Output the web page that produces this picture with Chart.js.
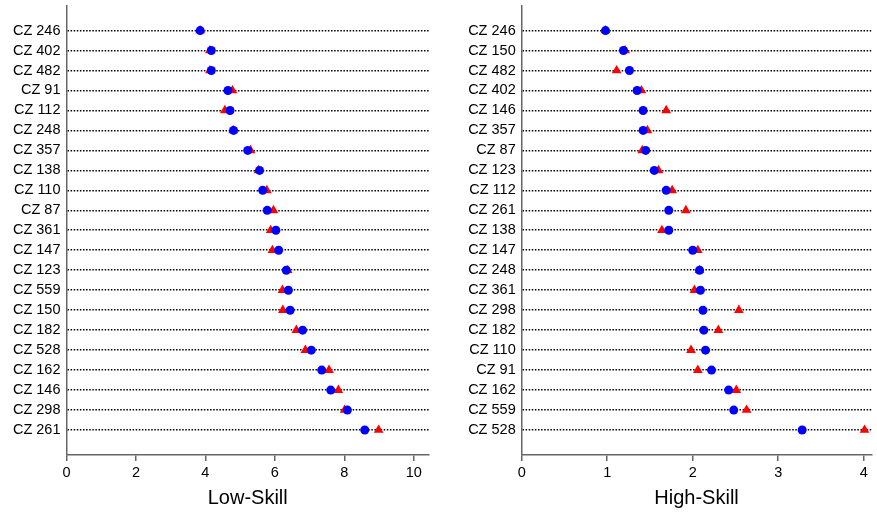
<!DOCTYPE html>
<html>
<head>
<meta charset="utf-8">
<script src="https://cdn.jsdelivr.net/npm/chart.js@4.4.1/dist/chart.umd.min.js"></script>
<style>
  body { margin: 0; background: #fff; }
  #wrap { position: relative; width: 877px; height: 514px; overflow: hidden; }
  #lowBox { position: absolute; left: 0; top: 0; }
  #highBox { position: absolute; left: 440px; top: 0; }
</style>
</head>
<body>
<div id="wrap">
  <div id="lowBox"><canvas id="lowChart" width="440" height="514"></canvas></div>
  <div id="highBox"><canvas id="highChart" width="437" height="514"></canvas></div>
</div>
<script>
// Low-skill panel, zones listed top to bottom
const lowLabels = ["CZ 246","CZ 402","CZ 482","CZ 91","CZ 112","CZ 248","CZ 357","CZ 138","CZ 110","CZ 87",
  "CZ 361","CZ 147","CZ 123","CZ 559","CZ 150","CZ 182","CZ 528","CZ 162","CZ 146","CZ 298","CZ 261"];
const lowBlue = [3.85,4.17,4.17,4.65,4.71,4.81,5.22,5.56,5.65,5.78,6.03,6.11,6.33,6.39,6.44,6.80,7.05,7.35,7.61,8.09,8.59];
const lowRed  = [3.85,4.13,4.13,4.78,4.56,4.80,5.30,5.53,5.77,5.96,5.88,5.93,6.37,6.22,6.23,6.62,6.88,7.56,7.83,8.01,8.99];
const lowTicks = [0,2,4,6,8,10];

// High-skill panel
const highLabels = ["CZ 246","CZ 150","CZ 482","CZ 402","CZ 146","CZ 357","CZ 87","CZ 123","CZ 112","CZ 261",
  "CZ 138","CZ 147","CZ 248","CZ 361","CZ 298","CZ 182","CZ 110","CZ 91","CZ 162","CZ 559","CZ 528"];
const highBlue = [0.98,1.19,1.26,1.35,1.42,1.42,1.45,1.55,1.69,1.72,1.72,2.00,2.08,2.09,2.12,2.13,2.15,2.22,2.42,2.48,3.28];
const highRed  = [0.98,1.21,1.11,1.40,1.69,1.47,1.41,1.60,1.76,1.92,1.64,2.06,2.08,2.02,2.54,2.30,1.98,2.06,2.51,2.63,4.01];
const highTicks = [0,1,2,3,4];

const FONT = "'Liberation Sans', Arial, sans-serif";
const AXIS_GREY = "#666";

function points(values) {
  return values.map((v, i) => ({ x: v, y: i }));
}

function dotChart(canvasId, labels, blue, red, ticks, xMax, title, yWidth, padRight) {
  return new Chart(document.getElementById(canvasId), {
    type: "scatter",
    data: {
      datasets: [
        {
          label: "blue",
          data: points(blue),
          pointStyle: "circle",
          pointRadius: 4.5,
          pointHoverRadius: 4.5,
          backgroundColor: "#0000ff",
          borderWidth: 0
        },
        {
          label: "red",
          data: points(red),
          pointStyle: "triangle",
          pointRadius: 5.6,
          pointHoverRadius: 5.6,
          backgroundColor: "#ff0000",
          borderWidth: 0
        }
      ]
    },
    options: {
      responsive: false,
      animation: false,
      events: [],
      layout: { padding: { top: 5, right: padRight, left: 0, bottom: 0 } },
      plugins: { legend: { display: false }, tooltip: { enabled: false } },
      scales: {
        x: {
          type: "linear",
          min: 0,
          max: xMax,
          afterBuildTicks: s => { s.ticks = ticks.map(v => ({ value: v })); },
          afterFit: s => { s.height = 59; s.paddingLeft = 0; s.paddingRight = 0; },
          border: { color: AXIS_GREY, width: 1.5 },
          grid: { drawOnChartArea: false, color: AXIS_GREY, tickLength: 6, lineWidth: 1.5 },
          ticks: { color: "#000", font: { family: FONT, size: 14.5 }, padding: 3, maxRotation: 0 },
          title: { display: true, text: title, color: "#000", font: { family: FONT, size: 20 }, padding: { top: 0, bottom: 4 } }
        },
        y: {
          type: "linear",
          reverse: true,
          min: -1.25,
          max: 21.25,
          afterBuildTicks: s => { s.ticks = labels.map((_, i) => ({ value: i })); },
          // rows sit well inside the axis, so no label overflow padding is needed
          afterFit: s => { s.width = yWidth; s.paddingTop = 0; s.paddingBottom = 0; },
          border: { color: AXIS_GREY, width: 1.5, dash: [1.5, 1.6] },
          grid: { drawTicks: false, color: "#000", lineWidth: 1.6 },
          ticks: {
            color: "#000",
            font: { family: FONT, size: 14.5 },
            padding: 6,
            callback: v => labels[v]
          }
        }
      }
    }
  });
}

dotChart("lowChart", lowLabels, lowBlue, lowRed, lowTicks, 10.44, "Low-Skill", 66.5, 11);
dotChart("highChart", highLabels, highBlue, highRed, highTicks, 4.09, "High-Skill", 81.7, 0);
</script>
</body>
</html>
